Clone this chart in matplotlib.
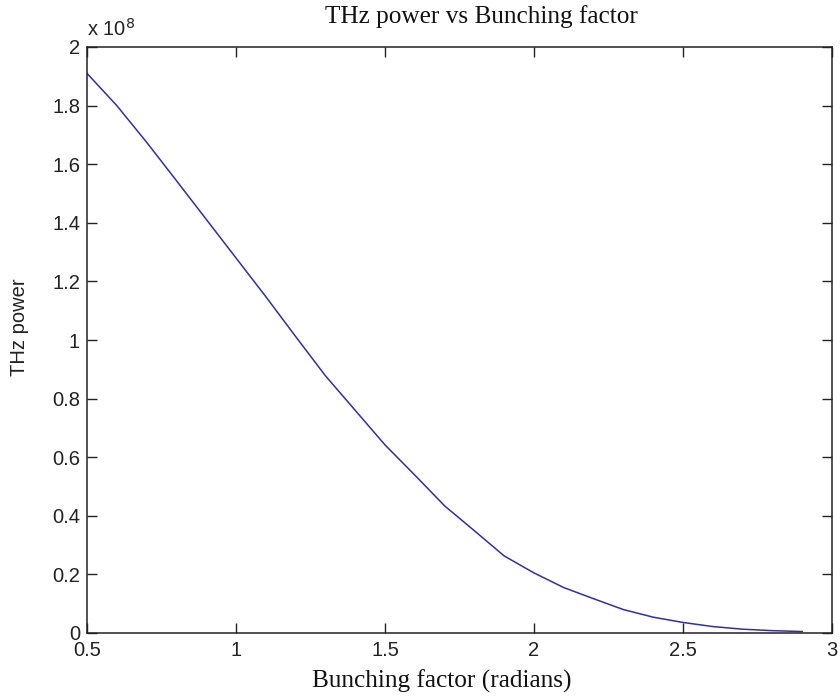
import matplotlib
matplotlib.use("Agg")
import matplotlib.pyplot as plt
from matplotlib.ticker import FuncFormatter, MultipleLocator

# Data (THz power in units of 1e8)
bunching = [0.5, 0.6, 0.7, 0.8, 0.9, 1.0, 1.1, 1.2, 1.3, 1.4, 1.5, 1.6, 1.7,
            1.8, 1.9, 2.0, 2.1, 2.2, 2.3, 2.4, 2.5, 2.6, 2.7, 2.8, 2.9]
power_e8 = [1.91, 1.80, 1.675, 1.544, 1.412, 1.28, 1.148, 1.012, 0.878, 0.76,
            0.642, 0.539, 0.434, 0.349, 0.263, 0.205, 0.155, 0.117, 0.08,
            0.054, 0.036, 0.022, 0.013, 0.008, 0.005]
power = [v * 1e8 for v in power_e8]

title = "THz power vs Bunching factor"
xlabel = "Bunching factor (radians)"
ylabel = "THz power"

W, H = 840, 699
fig = plt.figure(figsize=(W / 100, H / 100), dpi=100)
ax = fig.add_axes([87 / W, 1 - 633 / H, (832 - 87) / W, (633 - 47) / H])

ax.plot(bunching, power, color="#2f2fa8", linewidth=1.1)

ax.set_xlim(0.5, 3)
ax.set_ylim(0, 2e8)
ax.xaxis.set_major_locator(MultipleLocator(0.5))
ax.yaxis.set_major_locator(MultipleLocator(0.2e8))
ax.xaxis.set_major_formatter(FuncFormatter(lambda v, p: "%g" % round(v, 3)))
ax.yaxis.set_major_formatter(FuncFormatter(lambda v, p: "%g" % round(v / 1e8, 3)))

ax.tick_params(direction="in", length=7, width=1, top=True, right=True,
               labelsize=14.5, colors="#222222")
ax.tick_params(axis="y", pad=5)
ax.tick_params(axis="x", pad=6)
for lab in ax.get_xticklabels() + ax.get_yticklabels():
    lab.set_fontfamily("Liberation Sans")
for s in ax.spines.values():
    s.set_linewidth(1.1)
    s.set_color("#222222")

ax.text(0.0, 1.012, r"x 10$^{8}$", transform=ax.transAxes, fontsize=14.5,
        family="Liberation Sans", ha="left", va="bottom", color="#222222")

fig.text(481 / W, 1 - 17 / H, title, ha="center", va="center",
         family="Liberation Serif", fontsize=18.2, color="#111111")
fig.text(442 / W, 1 - 681 / H, xlabel, ha="center", va="center",
         family="Liberation Serif", fontsize=18.2, color="#111111")
fig.text(20 / W, 1 - 327 / H, ylabel, ha="center", va="center", rotation=90,
         family="Liberation Sans", fontsize=14.5, color="#222222")

fig.savefig("out.png", dpi=100)
